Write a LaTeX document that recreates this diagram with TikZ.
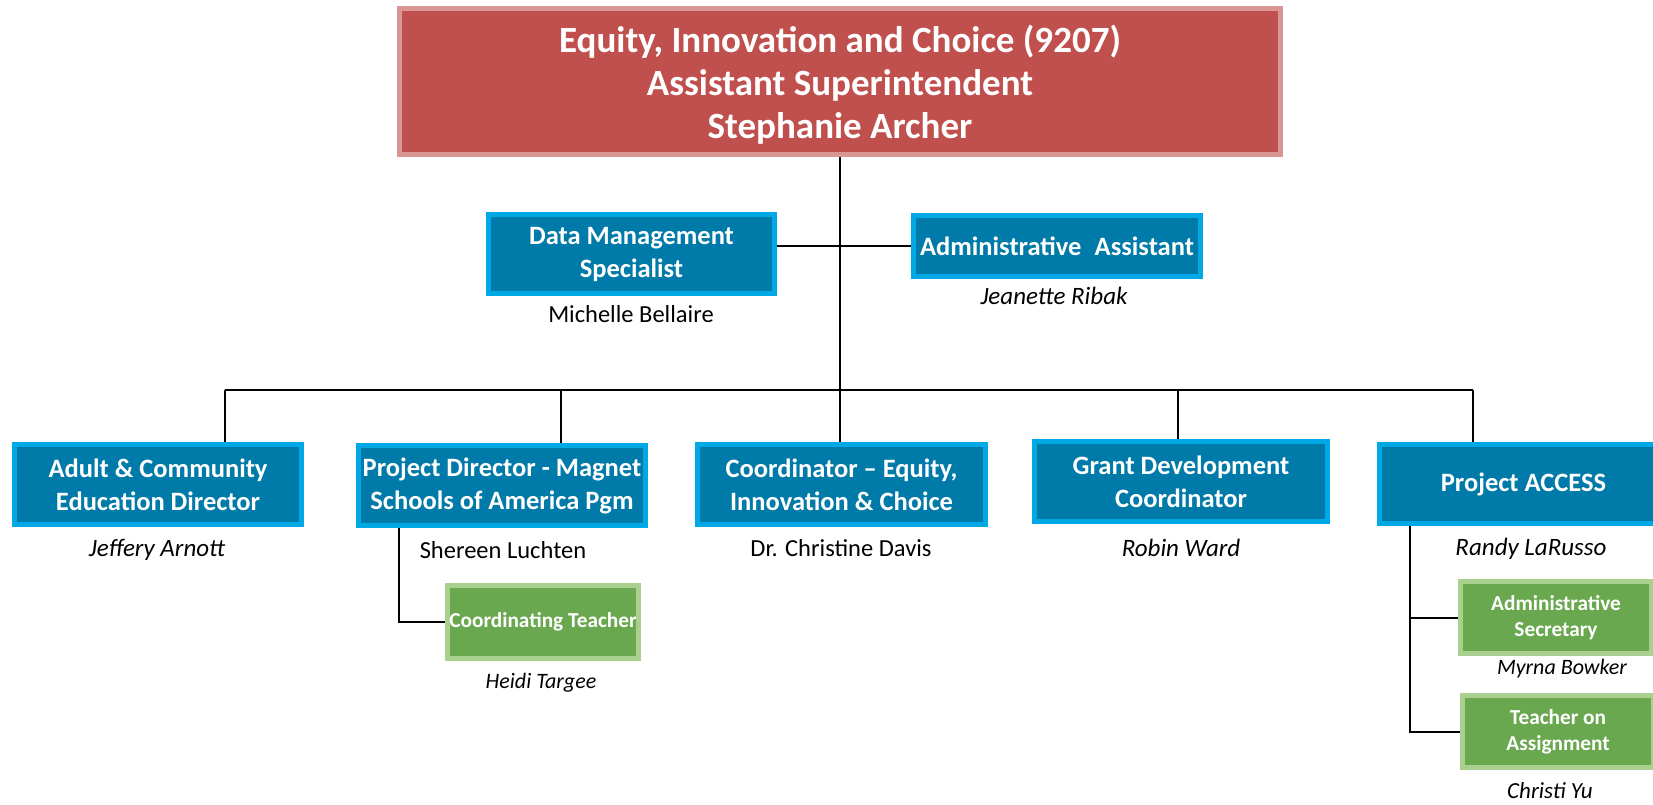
\documentclass[tikz,border=0pt]{standalone}
\usepackage{fontspec}
\setmainfont{Carlito}
\usetikzlibrary{backgrounds}
\definecolor{redfill}{HTML}{C0504D}
\definecolor{redline}{HTML}{D99694}
\definecolor{bluefill}{HTML}{007AA8}
\definecolor{blueline}{HTML}{00A9E6}
\definecolor{greenfill}{HTML}{6AA84F}
\definecolor{greenline}{HTML}{A9D08E}
\begin{document}
\begin{tikzpicture}[x=1pt,y=-1pt,
 box/.style={rectangle, line width=5pt, inner sep=0.5pt, outer sep=0pt, align=center, text=white},
 topbox/.style={box, fill=redfill, draw=redline, minimum width=881pt, minimum height=146pt, font=\bfseries\fontsize{37}{43}\selectfont},
 bluebox/.style={box, fill=bluefill, draw=blueline, minimum width=287pt, minimum height=80pt, font=\bfseries\fontsize{26.5}{33}\selectfont},
 greenbox/.style={box, fill=greenfill, draw=greenline, minimum width=191pt, minimum height=72pt, font=\bfseries\fontsize{21.3}{26}\selectfont},
 pname/.style={inner sep=0pt, font=\fontsize{24.5}{28}\selectfont},
 iname/.style={inner sep=0pt, font=\itshape\fontsize{25}{28}\selectfont},
 sname/.style={inner sep=0pt, font=\itshape\fontsize{22}{26}\selectfont},
 link/.style={line width=2pt, draw=black}]
\useasboundingbox (0,0) rectangle (1653,804);
\clip (0,0) rectangle (1653,804);

\node[topbox] (top) at (840,81.5) {\rule{0pt}{34pt}Equity, Innovation and Choice (9207)\\Assistant Superintendent\\Stephanie Archer};

\node[bluebox, minimum width=286pt, minimum height=79pt] (data) at (631.5,254) {Data Management\\Specialist};
\node[bluebox, minimum width=287pt, minimum height=61pt] (admin) at (1057,246) {Administrative\hspace{0.5em}Assistant};
\node[pname] (michelle) at (631,314) {Michelle Bellaire};
\node[iname] (jeanette) at (1054,296) {Jeanette Ribak};

\node[bluebox] (adult) at (158,484.5) {Adult \& Community\\Education Director};
\node[bluebox] (pd) at (502,485.5) {Project Director - Magnet\\Schools of America Pgm};
\node[bluebox, minimum width=288pt] (coord) at (841.5,484.5) {Coordinator – Equity,\\Innovation \& Choice};
\node[bluebox, minimum width=293pt] (grant) at (1181,481.5) {Grant Development\\Coordinator};
\node[bluebox, minimum width=288pt, minimum height=79pt] (access) at (1523.5,484) {Project ACCESS};

\node[iname] (jeffery) at (157,550) {Jeffery Arnott};
\node[pname] (shereen) at (503,550) {Shereen Luchten};
\node[pname] (christine) at (841,548) {Dr. Christine Davis};
\node[iname] (robin) at (1181,548) {Robin Ward};
\node[iname] (randy) at (1531,549) {Randy LaRusso};

\node[greenbox, minimum height=73pt] (ct) at (543,622) {Coordinating Teacher};
\node[sname] (heidi) at (541,683) {Heidi Targee};
\node[greenbox] (as) at (1556,617.5) {Administrative\\Secretary};
\node[sname] (myrna) at (1562,669) {Myrna Bowker};
\node[greenbox] (toa) at (1558,731.5) {Teacher on\\Assignment};
\node[sname, font=\itshape\fontsize{23}{26}\selectfont] (christi) at (1550,791) {Christi Yu};

\coordinate (dA) at (225,390);
\coordinate (dB) at (561,390);
\coordinate (dD) at (1178,390);
\coordinate (dE) at (1473,390);
\coordinate (sp) at ([xshift=-103pt]pd.south);
\coordinate (sa) at ([xshift=-113.5pt]access.south);

\begin{scope}[on background layer]
\draw[link] (top.south) -- (top.south |- coord.north);
\draw[link] (admin.west) -- (admin.west -| data.east);
\draw[link] (dA) -- (dE);
\draw[link] (dA) -- (dA |- adult.north);
\draw[link] (dB) -- (dB |- pd.north);
\draw[link] (dD) -- (dD |- grant.north);
\draw[link] (dE) -- (dE |- access.north);
\draw[link] (sp) |- (ct.west);
\draw[link] (sa) |- (toa.west);
\draw[link] (as.west) -- (as.west -| sa);
\end{scope}
\end{tikzpicture}
\end{document}
